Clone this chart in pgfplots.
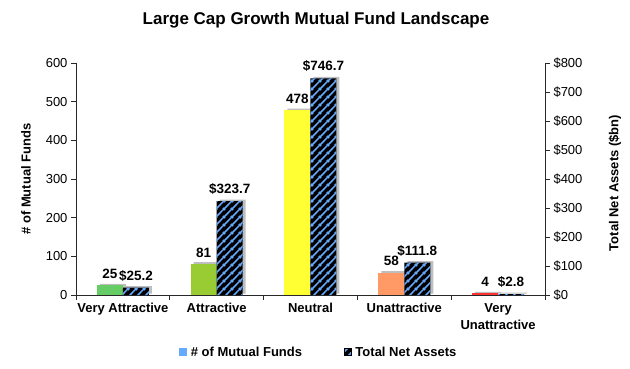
\documentclass[border=0pt]{standalone}
\usepackage{fontspec}
\setmainfont{Liberation Sans}
\usepackage{pgfplots}
\pgfplotsset{compat=1.18}
\usetikzlibrary{patterns.meta}
\definecolor{vagreen}{RGB}{102,204,102}
\definecolor{agreen}{RGB}{153,204,51}
\definecolor{nyellow}{RGB}{255,255,51}
\definecolor{uorange}{RGB}{255,153,102}
\definecolor{vured}{RGB}{255,51,51}
\definecolor{hatchblue}{RGB}{102,170,255}
\definecolor{shadowgray}{RGB}{190,190,190}
\definecolor{axisgray}{RGB}{40,40,40}

\tikzdeclarepattern{
  name=hatchNE,
  type=uncolored,
  bounding box={(0pt,0pt) and (8pt,8pt)},
  tile size={(8pt,8pt)},
  code={
    \draw[line width=1.6pt] (-2pt,-2pt) -- (10pt,10pt);
    \draw[line width=1.6pt] (-2pt,6pt) -- (2pt,10pt);
    \draw[line width=1.6pt] (6pt,-2pt) -- (10pt,2pt);
  }
}

\pgfplotsset{
  common/.style={
    scale only axis, width=469pt, height=232pt,
    xmin=-0.5, xmax=4.5, ymin=0,
    ybar=0pt, bar width=26pt,
    /pgf/number format/assume math mode=true,
    axis line style={line width=0.8pt, axisgray},
    tick style={line width=0.8pt, axisgray},
    tick align=outside, major tick length=5pt,
    ticklabel style={font=\fontsize{13}{15}\selectfont},
    every node near coord/.append style={font=\bfseries\fontsize{13.5}{16}\selectfont, black, yshift=3pt},
    clip=false,
  }
}

\begin{document}
\begin{tikzpicture}
\useasboundingbox (-76pt,-73pt) rectangle (554pt,295pt);

\begin{axis}[common,
  ymax=600, ytick={0,100,...,600},
  axis x line*=bottom, axis y line*=left,
  xtick={0,1,2,3,4},
  xticklabels={Very Attractive, Attractive, Neutral, Unattractive, {Very\\Unattractive}},
  xticklabel style={align=center, font=\bfseries\fontsize{13}{17}\selectfont},
  major x tick style={draw=none},
  minor xtick={-0.5,0.5,1.5,2.5,3.5,4.5},
  minor x tick style={draw=axisgray, line width=0.8pt},
  minor tick length=5pt,
]
\addplot[fill=shadowgray, draw=none, bar shift=-13pt, xshift=3pt, yshift=1.5pt, forget plot]
  coordinates {(0,25) (1,81) (2,478) (3,58) (4,4)};
\addplot[fill=vagreen, draw=none, bar shift=-13pt, nodes near coords] coordinates {(0,25)};
\addplot[fill=agreen, draw=none, bar shift=-13pt, nodes near coords] coordinates {(1,81)};
\addplot[fill=nyellow, draw=none, bar shift=-13pt, nodes near coords] coordinates {(2,478)};
\addplot[fill=uorange, draw=none, bar shift=-13pt, nodes near coords] coordinates {(3,58)};
\addplot[fill=vured, draw=none, bar shift=-13pt, nodes near coords] coordinates {(4,4)};
\end{axis}

\begin{axis}[common,
  ymax=800, ytick={0,100,...,800},
  axis y line*=right, axis x line=none,
  yticklabel={\$\pgfmathprintnumber{\tick}},
  legend columns=2,
  legend style={at={(0.518,-0.246)}, anchor=center, draw=none, fill=none,
    font=\bfseries\fontsize{13}{15}\selectfont,
    /tikz/every odd column/.append style={column sep=2pt},
    /tikz/every even column/.append style={column sep=40pt}},
]
\addplot[fill=shadowgray, draw=none, bar shift=13pt, xshift=3pt, yshift=1.5pt, forget plot]
  coordinates {(0,25.2) (1,323.7) (2,746.7) (3,111.8) (4,2.8)};
\addplot[fill=black, draw=none, bar shift=13pt,
  postaction={pattern=hatchNE, pattern color=hatchblue},
  nodes near coords={\$\pgfmathprintnumber[fixed,fixed zerofill,precision=1]{\pgfplotspointmeta}},
  forget plot]
  coordinates {(0,25.2) (1,323.7) (2,746.7) (3,111.8) (4,2.8)};
\addlegendimage{legend image code/.code={\fill[hatchblue] (0pt,-3.5pt) rectangle (7pt,3.5pt);}}
\addlegendentry{\# of Mutual Funds}
\addlegendimage{legend image code/.code={\fill[black] (0pt,-3.5pt) rectangle (7pt,3.5pt);
  \fill[pattern=hatchNE, pattern color=hatchblue] (0pt,-3.5pt) rectangle (7pt,3.5pt);}}
\addlegendentry{Total Net Assets}
\end{axis}

\node[font=\bfseries\fontsize{17}{20}\selectfont] at (240pt,275pt) {Large Cap Growth Mutual Fund Landscape};
\node[rotate=90, font=\bfseries\fontsize{13}{15}\selectfont] at (-50pt,116pt) {\# of Mutual Funds};
\node[rotate=90, font=\bfseries\fontsize{13}{15}\selectfont] at (539pt,112pt) {Total Net Assets (\$bn)};
\end{tikzpicture}
\end{document}
